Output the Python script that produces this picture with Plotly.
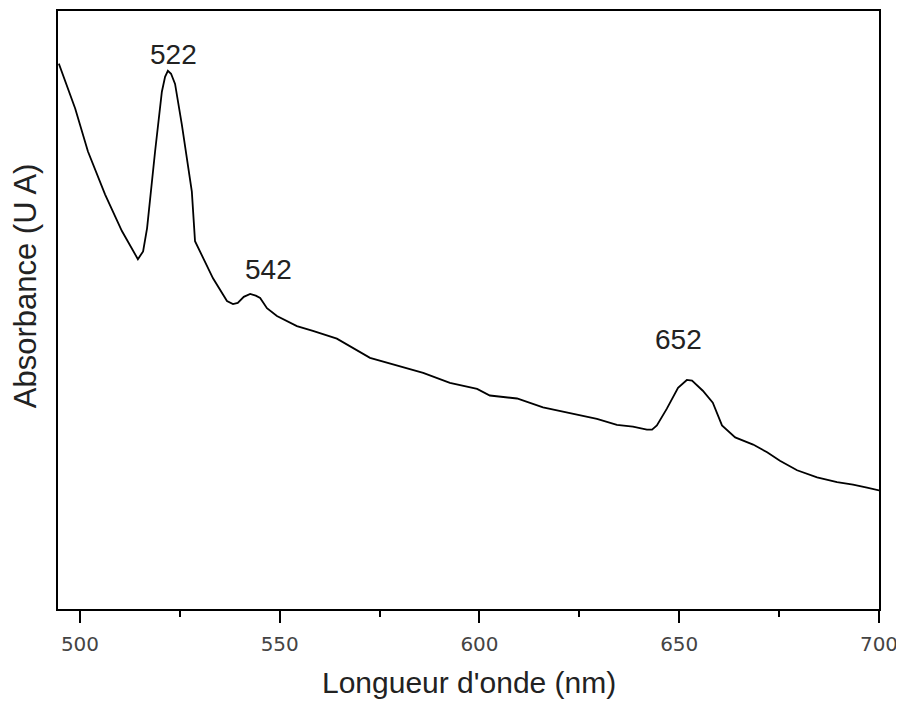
import plotly.graph_objects as go

# Wavelength (nm) and absorbance (arbitrary units)
wavelength = [494.7, 498.8, 502.0, 506.3, 510.5, 513.0, 514.5, 515.8, 516.8, 518.8,
              520.5, 521.3, 522.0, 522.8, 523.8, 525.5, 528.0, 528.8, 530.8, 533.3,
              536.8, 538.3, 539.5, 541.0, 542.6, 544.0, 545.1, 546.8, 549.3, 554.3,
              558.3, 564.3, 572.6, 579.3, 585.9, 592.6, 599.4, 602.6, 609.4, 615.9,
              622.7, 629.4, 634.4, 638.4, 641.9, 643.2, 644.4, 646.9, 649.7, 651.9,
              653.2, 655.9, 658.4, 660.7, 664.0, 668.5, 672.0, 675.2, 679.5, 684.5,
              689.5, 693.5, 697.0, 700.3]
absorbance = [0.912, 0.837, 0.765, 0.693, 0.632, 0.602, 0.585, 0.598, 0.637, 0.765,
              0.865, 0.890, 0.900, 0.895, 0.878, 0.810, 0.698, 0.615, 0.587, 0.553,
              0.515, 0.510, 0.512, 0.522, 0.527, 0.524, 0.520, 0.503, 0.490, 0.473,
              0.465, 0.452, 0.420, 0.407, 0.395, 0.378, 0.368, 0.357, 0.352, 0.337,
              0.327, 0.318, 0.308, 0.305, 0.300, 0.300, 0.307, 0.335, 0.370, 0.383,
              0.382, 0.365, 0.345, 0.307, 0.287, 0.275, 0.262, 0.248, 0.232, 0.220,
              0.212, 0.208, 0.203, 0.198]

peak_labels = ["522", "542", "652"]
peak_label_x = [523.5, 547.3, 649.9]
peak_label_y = [0.928, 0.568, 0.450]

x_ticks = [500, 550, 600, 650, 700]

fig = go.Figure()
fig.add_trace(go.Scatter(x=wavelength, y=absorbance, mode="lines",
                         line=dict(color="black", width=1.8), showlegend=False))

for t, xv, yv in zip(peak_labels, peak_label_x, peak_label_y):
    fig.add_annotation(x=xv, y=yv, text=t, showarrow=False,
                       font=dict(family="Liberation Sans, Arial", size=28, color="#222"))

# axis titles placed as annotations (paper coordinates)
fig.add_annotation(xref="paper", yref="paper", x=0.5, y=-0.123, text="Longueur d'onde (nm)",
                   showarrow=False, xanchor="center", yanchor="middle",
                   font=dict(family="Liberation Sans, Arial", size=30, color="#222"))
fig.add_annotation(xref="paper", yref="paper", x=-0.040, y=0.54, text="Absorbance (U A)",
                   showarrow=False, xanchor="center", yanchor="middle", textangle=-90,
                   font=dict(family="Liberation Sans, Arial", size=31, color="#222"))

fig.update_layout(
    width=896, height=699,
    margin=dict(l=50, r=25, t=1, b=98),
    paper_bgcolor="white", plot_bgcolor="white",
    xaxis=dict(range=[494.5, 700], tickvals=x_ticks, ticktext=[str(v) for v in x_ticks],
               showline=True, linecolor="black", linewidth=2, mirror=True,
               ticks="outside", ticklen=12, tickwidth=2, tickcolor="black",
               ticklabelstandoff=4,
               minor=dict(ticks="outside", ticklen=6, tickwidth=2, tickcolor="black",
                          tick0=525, dtick=50),
               showgrid=False, zeroline=False,
               tickfont=dict(family="DejaVu Sans, Verdana", size=20, color="#444")),
    yaxis=dict(range=[0, 1], showline=True, linecolor="black", linewidth=2, mirror=True,
               ticks="", showticklabels=False, showgrid=False, zeroline=False),
)

fig.write_html("out.html")
